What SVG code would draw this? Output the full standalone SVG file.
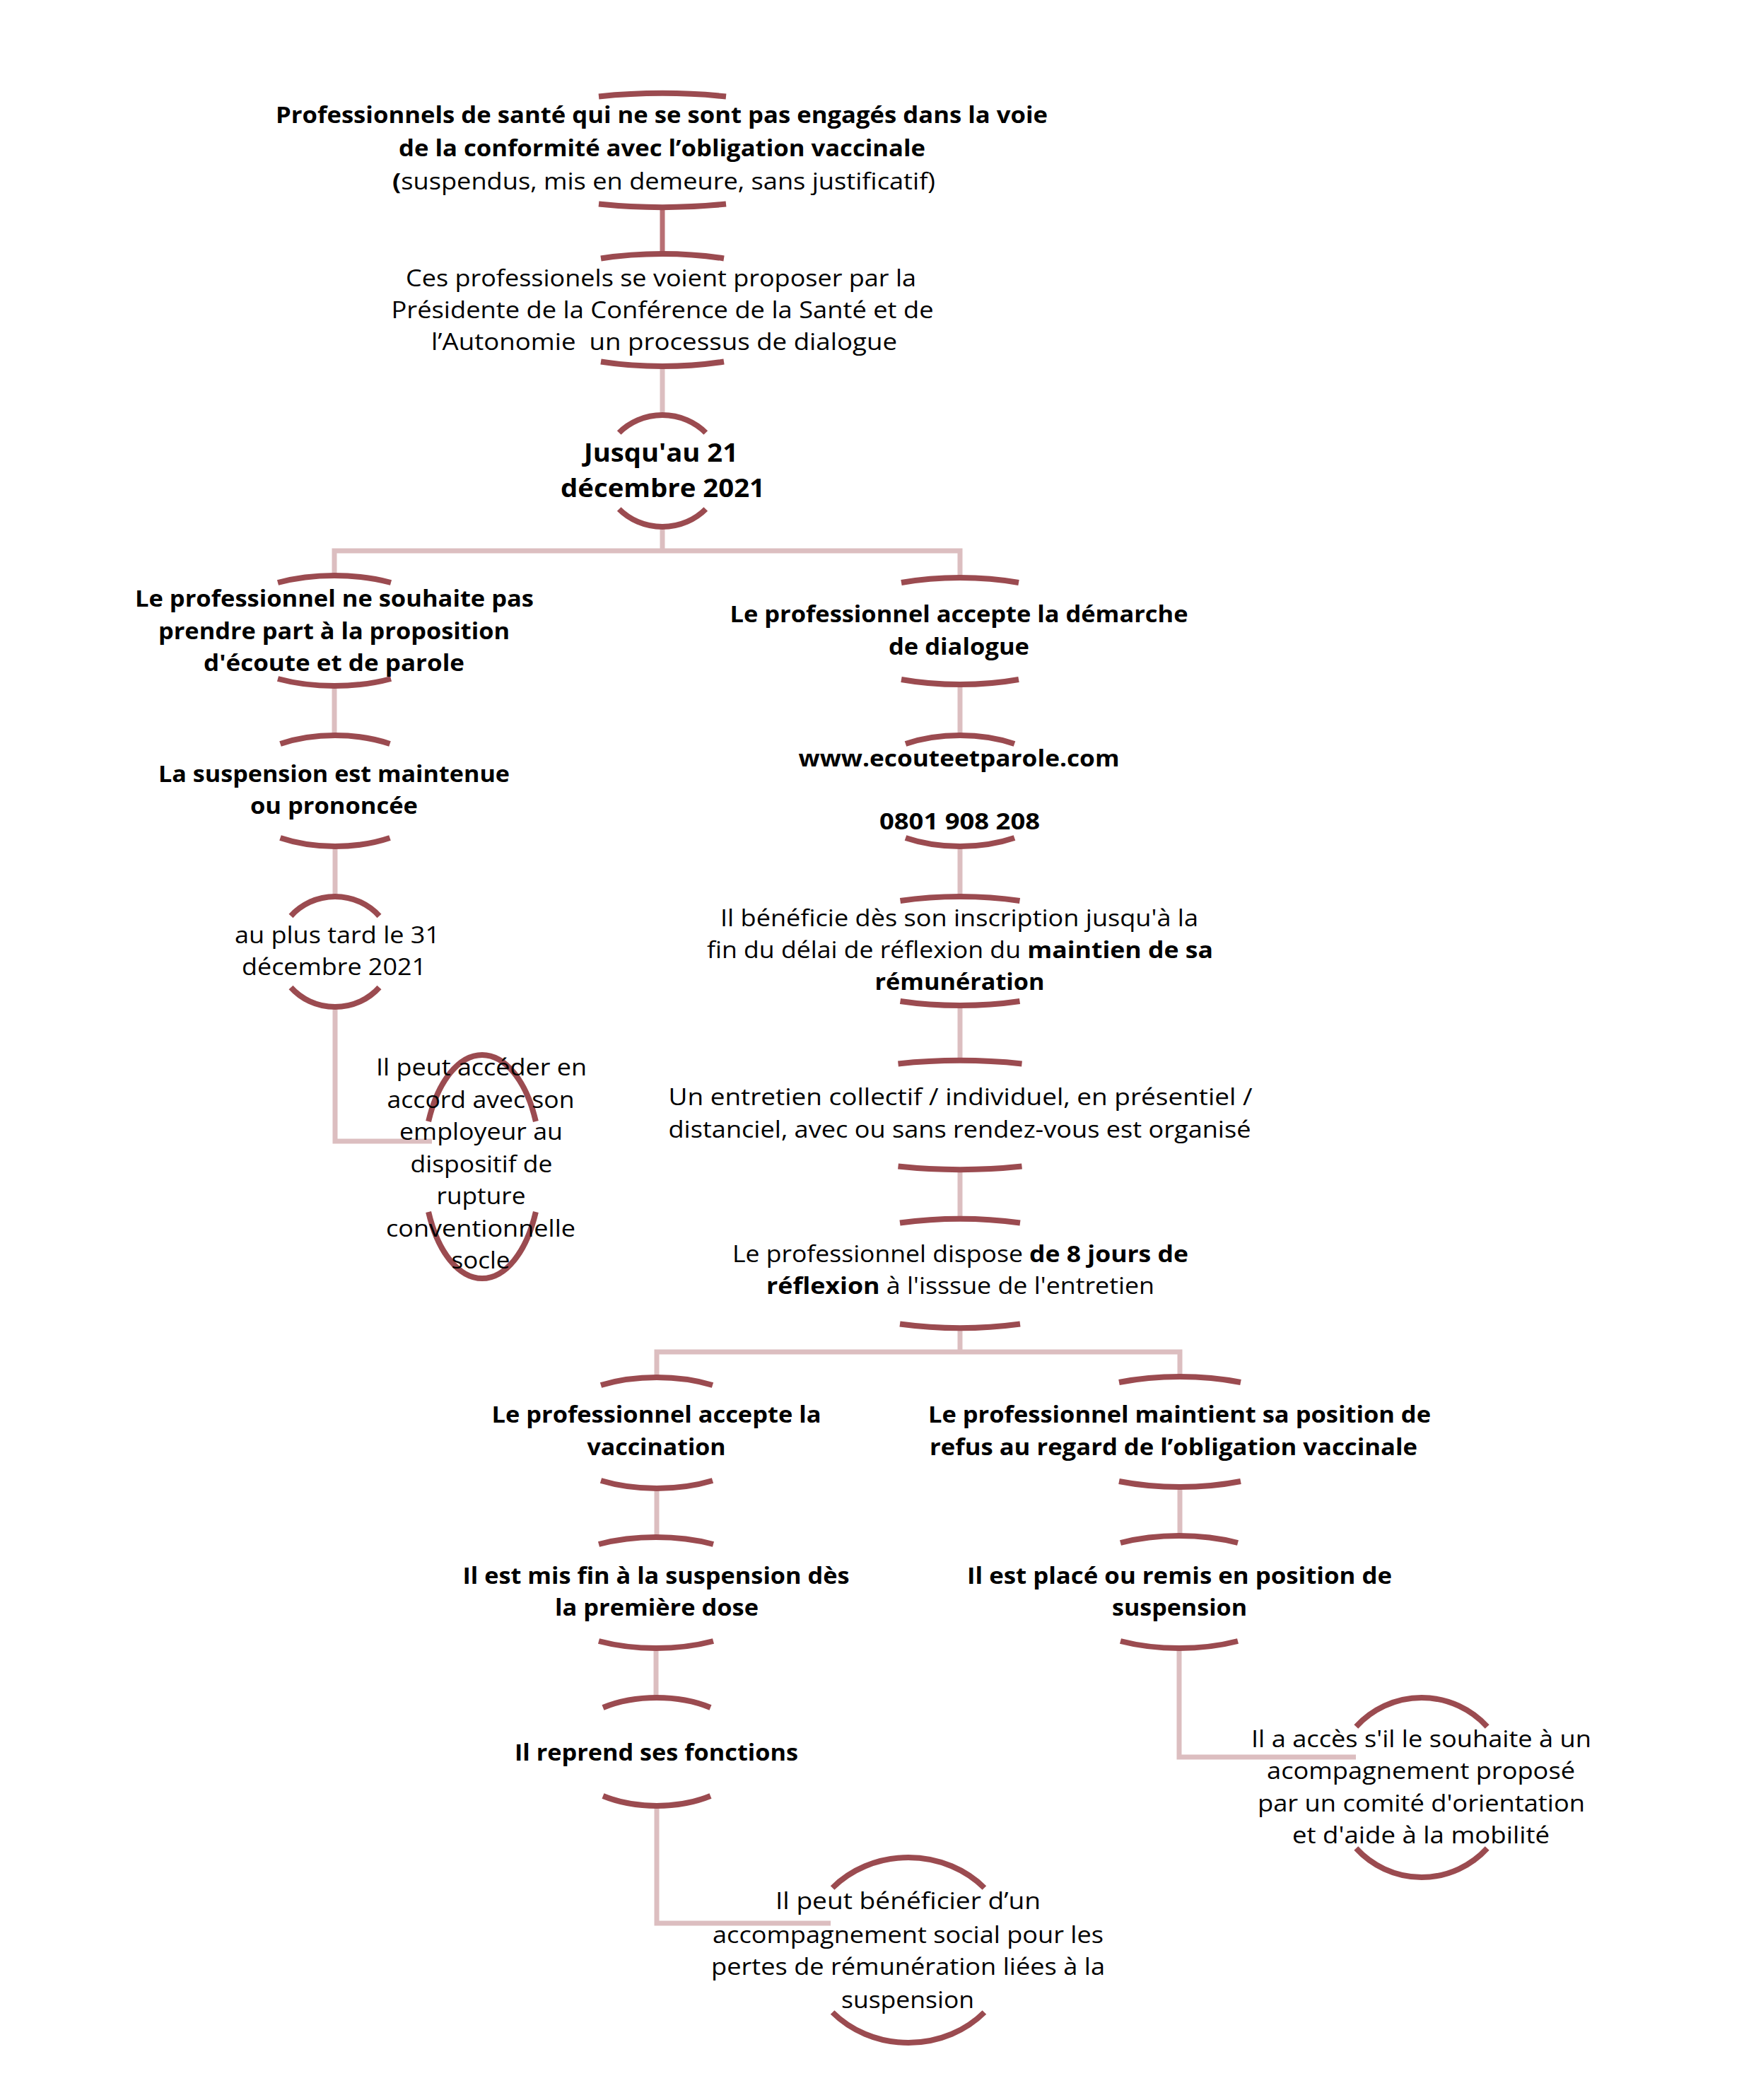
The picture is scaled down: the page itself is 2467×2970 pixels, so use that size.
<svg xmlns="http://www.w3.org/2000/svg" width="2467" height="2970" viewBox="0 0 2467 2970">
<style>
.arc{fill:none;stroke:#9b4b50;stroke-width:8}
.con{fill:none;stroke:#dcbec0;stroke-width:7}
.con2{fill:none;stroke:#b86f74;stroke-width:7}
text{font-family:"Open Sans","Liberation Sans",sans-serif;font-size:32px;fill:#000;text-anchor:middle}
.b{font-weight:700}
.big{font-size:36px}
</style>
<rect width="2467" height="2970" fill="#fff"/>
<g id="connectors">
<path class="con2" d="M937 293V359"/>
<path class="con" d="M937 518V587"/>
<path class="con" d="M937 745V779"/>
<path class="con" d="M473 814V779H1358V817"/>
<path class="con" d="M473 970V1040"/>
<path class="con" d="M1358 968V1040"/>
<path class="con" d="M474 1197V1268"/>
<path class="con" d="M1358 1197V1268"/>
<path class="con" d="M474 1424V1614H611"/>
<path class="con" d="M1358 1422V1500"/>
<path class="con" d="M1358 1654V1724"/>
<path class="con" d="M1358 1878V1912"/>
<path class="con" d="M929 1948V1912H1669V1947"/>
<path class="con" d="M929 2105V2174"/>
<path class="con" d="M1669 2103V2172"/>
<path class="con" d="M928 2331V2401"/>
<path class="con" d="M1668 2331V2485H1918"/>
<path class="con" d="M929 2554V2720H1175"/>
</g>
<g id="n1">
<path class="arc" d="M847 136.5A273 80.5 0 0 1 1027 136.5"/>
<path class="arc" d="M847 288.5A273 80.5 0 0 0 1027 288.5"/>
<text class="b" x="936" y="174" textLength="1092" lengthAdjust="spacingAndGlyphs">Professionnels de santé qui ne se sont pas engagés dans la voie</text>
<text class="b" x="936.5" y="221" textLength="745" lengthAdjust="spacingAndGlyphs">de la conformité avec l’obligation vaccinale</text>
<text x="939" y="268" textLength="768" lengthAdjust="spacingAndGlyphs"><tspan class="b">(</tspan>suspendus, mis en demeure, sans justificatif)</text>
</g>
<g id="n2">
<path class="arc" d="M850 365.5A220 79.5 0 0 1 1024 365.5"/>
<path class="arc" d="M850 511.5A220 79.5 0 0 0 1024 511.5"/>
<text x="935" y="405" textLength="722" lengthAdjust="spacingAndGlyphs">Ces professionels se voient proposer par la</text>
<text x="937" y="450" textLength="767" lengthAdjust="spacingAndGlyphs">Présidente de la Conférence de la Santé et de</text>
<text x="939.5" y="495" textLength="659" lengthAdjust="spacingAndGlyphs">l’Autonomie&#160; un processus de dialogue</text>
</g>
<g id="n3">
<path class="arc" d="M875.7 612A84 79 0 0 1 998.3 612"/>
<path class="arc" d="M875.7 720A84 79 0 0 0 998.3 720"/>
<text class="b big" x="935" y="653" textLength="218" lengthAdjust="spacingAndGlyphs">Jusqu'au 21</text>
<text class="b big" x="937.5" y="703" textLength="289" lengthAdjust="spacingAndGlyphs">décembre 2021</text>
</g>
<g id="n4l">
<path class="arc" d="M393 824A163 78 0 0 1 553 824"/>
<path class="arc" d="M393 960A163 78 0 0 0 553 960"/>
<text class="b" x="473" y="858" textLength="564" lengthAdjust="spacingAndGlyphs">Le professionnel ne souhaite pas</text>
<text class="b" x="472.5" y="904" textLength="497" lengthAdjust="spacingAndGlyphs">prendre part à la proposition</text>
<text class="b" x="472.5" y="949" textLength="369" lengthAdjust="spacingAndGlyphs">d'écoute et de parole</text>
</g>
<g id="n4r">
<path class="arc" d="M1275 824A197 75.5 0 0 1 1441 824"/>
<path class="arc" d="M1275 961A197 75.5 0 0 0 1441 961"/>
<text class="b" x="1356.5" y="880" textLength="648" lengthAdjust="spacingAndGlyphs">Le professionnel accepte la démarche</text>
<text class="b" x="1356.5" y="926" textLength="199" lengthAdjust="spacingAndGlyphs">de dialogue</text>
</g>
<g id="n5l">
<path class="arc" d="M396.5 1052A146 78.5 0 0 1 551.5 1052"/>
<path class="arc" d="M396.5 1185A146 78.5 0 0 0 551.5 1185"/>
<text class="b" x="472.5" y="1106" textLength="497" lengthAdjust="spacingAndGlyphs">La suspension est maintenue</text>
<text class="b" x="472.5" y="1151" textLength="237" lengthAdjust="spacingAndGlyphs">ou prononcée</text>
</g>
<g id="n5r">
<path class="arc" d="M1281 1052A145 78.5 0 0 1 1435 1052"/>
<path class="arc" d="M1281 1185A145 78.5 0 0 0 1435 1185"/>
<text class="b" x="1356.5" y="1084" textLength="454" lengthAdjust="spacingAndGlyphs">www.ecouteetparole.com</text>
<text class="b" x="1357.5" y="1173" textLength="227" lengthAdjust="spacingAndGlyphs">0801 908 208</text>
</g>
<g id="n6l">
<path class="arc" d="M411.5 1295.5A82 78 0 0 1 536.5 1295.5"/>
<path class="arc" d="M411.5 1396.5A82 78 0 0 0 536.5 1396.5"/>
<text x="477" y="1334" textLength="290" lengthAdjust="spacingAndGlyphs">au plus tard le 31</text>
<text x="472.5" y="1379" textLength="261" lengthAdjust="spacingAndGlyphs">décembre 2021</text>
</g>
<g id="n7l">
<path class="arc" d="M606.1 1586A83 158 0 0 1 757.9 1586"/>
<path class="arc" d="M606.1 1714A83 158 0 0 0 757.9 1714"/>
<text x="681" y="1521" textLength="298" lengthAdjust="spacingAndGlyphs">Il peut accéder en</text>
<text x="680" y="1567" textLength="265" lengthAdjust="spacingAndGlyphs">accord avec son</text>
<text x="680.5" y="1612" textLength="231" lengthAdjust="spacingAndGlyphs">employeur au</text>
<text x="681" y="1658" textLength="201" lengthAdjust="spacingAndGlyphs">dispositif de</text>
<text x="680.5" y="1703" textLength="126" lengthAdjust="spacingAndGlyphs">rupture</text>
<text x="680" y="1749" textLength="268" lengthAdjust="spacingAndGlyphs">conventionnelle</text>
<text x="680" y="1794" textLength="83" lengthAdjust="spacingAndGlyphs">socle</text>
</g>
<g id="n8r">
<path class="arc" d="M1273.5 1274A218 77 0 0 1 1442.5 1274"/>
<path class="arc" d="M1273.5 1416A218 77 0 0 0 1442.5 1416"/>
<text x="1357" y="1310" textLength="676" lengthAdjust="spacingAndGlyphs">Il bénéficie dès son inscription jusqu'à la</text>
<text x="1358" y="1355" textLength="716" lengthAdjust="spacingAndGlyphs">fin du délai de réflexion du <tspan class="b">maintien de sa</tspan></text>
<text class="b" x="1357.5" y="1400" textLength="240" lengthAdjust="spacingAndGlyphs">rémunération</text>
</g>
<g id="n9r">
<path class="arc" d="M1270.5 1504.5A260 77 0 0 1 1445.5 1504.5"/>
<path class="arc" d="M1270.5 1649.5A260 77 0 0 0 1445.5 1649.5"/>
<text x="1358.5" y="1563" textLength="826" lengthAdjust="spacingAndGlyphs">Un entretien collectif / individuel, en présentiel /</text>
<text x="1357.5" y="1609" textLength="824" lengthAdjust="spacingAndGlyphs">distanciel, avec ou sans rendez-vous est organisé</text>
</g>
<g id="n10r">
<path class="arc" d="M1273 1729.5A229 77 0 0 1 1443 1729.5"/>
<path class="arc" d="M1273 1872.5A229 77 0 0 0 1443 1872.5"/>
<text x="1358.5" y="1785" textLength="645" lengthAdjust="spacingAndGlyphs">Le professionnel dispose <tspan class="b">de 8 jours de</tspan></text>
<text x="1358.5" y="1830" textLength="549" lengthAdjust="spacingAndGlyphs"><tspan class="b">réflexion</tspan> à l'isssue de l'entretien</text>
</g>
<g id="n11l">
<path class="arc" d="M850 1959A155 78.5 0 0 1 1008 1959"/>
<path class="arc" d="M850 2094A155 78.5 0 0 0 1008 2094"/>
<text class="b" x="928.5" y="2012" textLength="466" lengthAdjust="spacingAndGlyphs">Le professionnel accepte la</text>
<text class="b" x="928.5" y="2058" textLength="196" lengthAdjust="spacingAndGlyphs">vaccination</text>
</g>
<g id="n11r">
<path class="arc" d="M1583 1955A195 78 0 0 1 1755 1955"/>
<path class="arc" d="M1583 2095A195 78 0 0 0 1755 2095"/>
<text class="b" x="1668.5" y="2012" textLength="711" lengthAdjust="spacingAndGlyphs">Le professionnel maintient sa position de</text>
<text class="b" x="1660" y="2058" textLength="690" lengthAdjust="spacingAndGlyphs">refus au regard de l’obligation vaccinale</text>
</g>
<g id="n12l">
<path class="arc" d="M847 2184A166 78.5 0 0 1 1009 2184"/>
<path class="arc" d="M847 2321A166 78.5 0 0 0 1009 2321"/>
<text class="b" x="928" y="2240" textLength="547" lengthAdjust="spacingAndGlyphs">Il est mis fin à la suspension dès</text>
<text class="b" x="929" y="2285" textLength="288" lengthAdjust="spacingAndGlyphs">la première dose</text>
</g>
<g id="n12r">
<path class="arc" d="M1585 2182A171 79.5 0 0 1 1751 2182"/>
<path class="arc" d="M1585 2321A171 79.5 0 0 0 1751 2321"/>
<text class="b" x="1668.5" y="2240" textLength="601" lengthAdjust="spacingAndGlyphs">Il est placé ou remis en position de</text>
<text class="b" x="1668.5" y="2285" textLength="191" lengthAdjust="spacingAndGlyphs">suspension</text>
</g>
<g id="n13l">
<path class="arc" d="M853 2415A132 76.5 0 0 1 1005 2415"/>
<path class="arc" d="M853 2540A132 76.5 0 0 0 1005 2540"/>
<text class="b" x="928.5" y="2490" textLength="401" lengthAdjust="spacingAndGlyphs">Il reprend ses fonctions</text>
</g>
<g id="n13r">
<path class="arc" d="M1918.3 2442A126 127 0 0 1 2103.7 2442"/>
<path class="arc" d="M1918.3 2614A126 127 0 0 0 2103.7 2614"/>
<text x="2010.5" y="2471" textLength="481" lengthAdjust="spacingAndGlyphs">Il a accès s'il le souhaite à un</text>
<text x="2010" y="2516" textLength="436" lengthAdjust="spacingAndGlyphs">acompagnement proposé</text>
<text x="2010.5" y="2562" textLength="463" lengthAdjust="spacingAndGlyphs">par un comité d'orientation</text>
<text x="2010" y="2607" textLength="364" lengthAdjust="spacingAndGlyphs">et d'aide à la mobilité</text>
</g>
<g id="n14l">
<path class="arc" d="M1177.6 2670A145 131 0 0 1 1392.4 2670"/>
<path class="arc" d="M1177.6 2846A145 131 0 0 0 1392.4 2846"/>
<text x="1284.5" y="2700" textLength="375" lengthAdjust="spacingAndGlyphs">Il peut bénéficier d’un</text>
<text x="1284.5" y="2748" textLength="553" lengthAdjust="spacingAndGlyphs">accompagnement social pour les</text>
<text x="1284.5" y="2793" textLength="557" lengthAdjust="spacingAndGlyphs">pertes de rémunération liées à la</text>
<text x="1284" y="2840" textLength="188" lengthAdjust="spacingAndGlyphs">suspension</text>
</g>
</svg>
